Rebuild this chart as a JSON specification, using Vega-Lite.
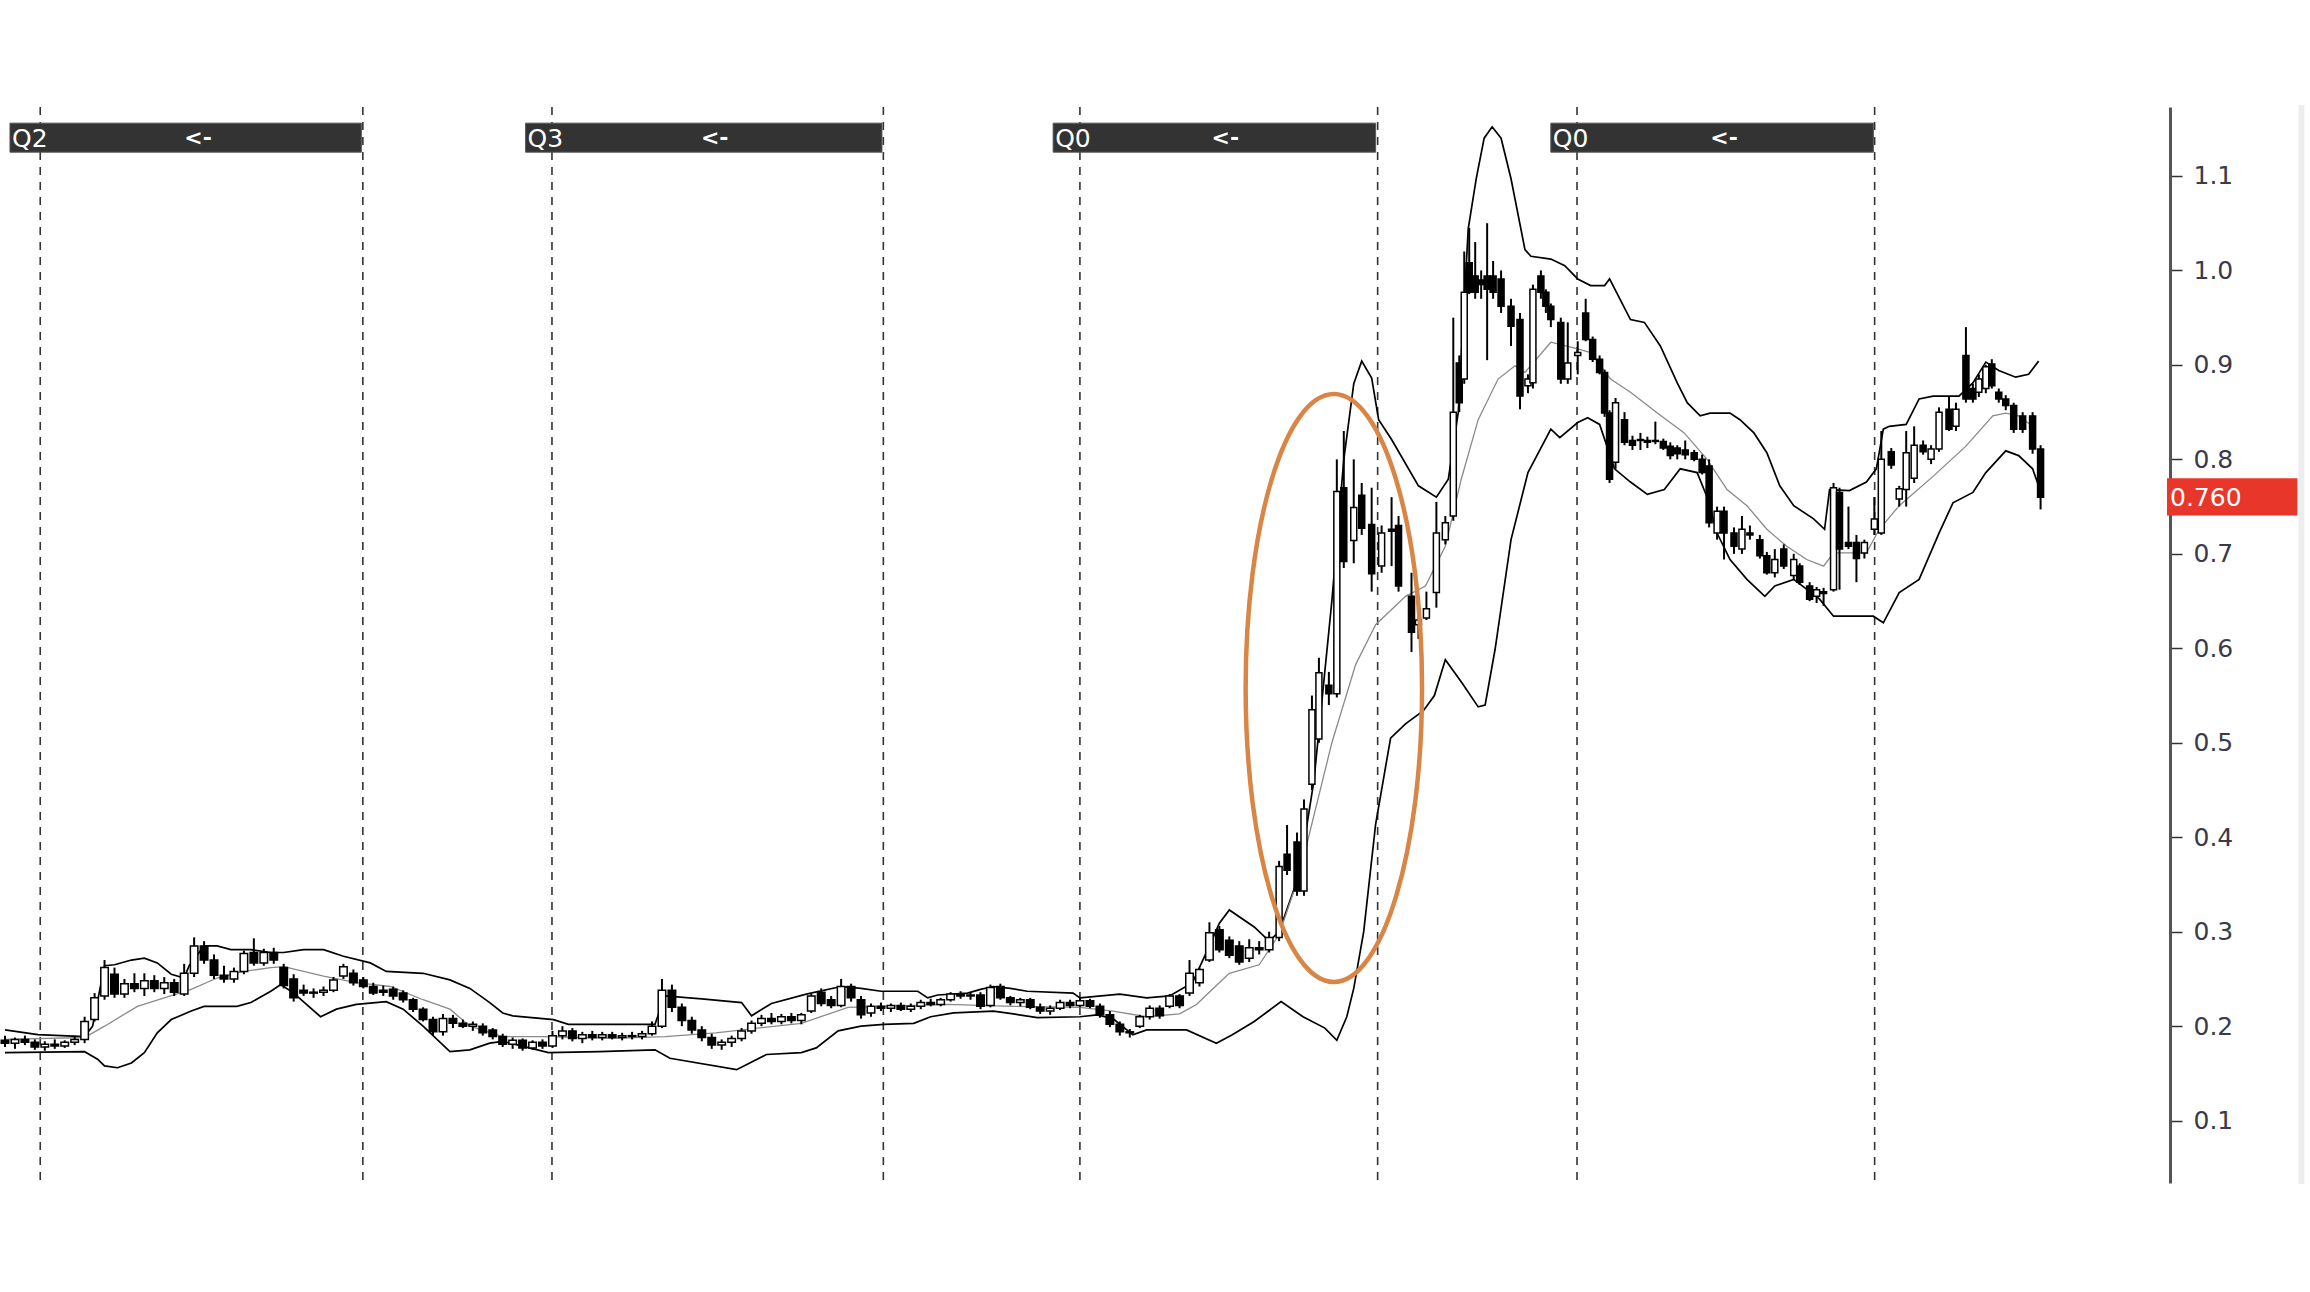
{
"$schema":"https://vega.github.io/schema/vega-lite/v6.json",
"width":2170,"height":1076,
"autosize":{"type":"none"},
"padding":{"left":0,"top":107,"right":140,"bottom":109},
"background":"#ffffff",
"config":{"view":{"stroke":null},"axisY":{"domainColor":"#555555","domainWidth":3,"tickColor":"#333333","tickWidth":1.5,"tickSize":12,"labelPadding":11,"labelFont":"DejaVu Sans","labelFontSize":25,"labelColor":"#3a3a4a","grid":false}},
"datasets":{
"vl":[{"t":3.54},{"t":35.95},{"t":54.95},{"t":88.24},{"t":107.99},{"t":137.9},{"t":157.93},{"t":187.83}],
"hdr":[{"t":0.5,"t2":35.8,"y":1.1559,"y2":1.1252},{"t":52.3,"t2":88.1,"y":1.1559,"y2":1.1252},{"t":105.3,"t2":137.7,"y":1.1559,"y2":1.1252},{"t":155.3,"t2":187.7,"y":1.1559,"y2":1.1252}],
"lbl":[{"t":0.7,"y":1.1405,"s":"Q2"},{"t":52.5,"y":1.1405,"s":"Q3"},{"t":105.5,"y":1.1405,"s":"Q0"},{"t":155.5,"y":1.1405,"s":"Q0"}],
"arr":[{"t":19.4,"y":1.1405,"s":"<-"},{"t":71.3,"y":1.1405,"s":"<-"},{"t":122.6,"y":1.1405,"s":"<-"},{"t":172.7,"y":1.1405,"s":"<-"}],
"up":[{"t":0,"v":0.196},{"t":3.3,"v":0.191},{"t":8,"v":0.189},{"t":8.8,"v":0.2},{"t":10,"v":0.264},{"t":11,"v":0.265},{"t":12.7,"v":0.27},{"t":14,"v":0.272},{"t":15.3,"v":0.267},{"t":16.7,"v":0.255},{"t":18,"v":0.251},{"t":18.5,"v":0.264},{"t":20,"v":0.285},{"t":21.3,"v":0.285},{"t":22.7,"v":0.281},{"t":24.7,"v":0.281},{"t":26.7,"v":0.278},{"t":28,"v":0.278},{"t":30,"v":0.281},{"t":32,"v":0.281},{"t":34,"v":0.274},{"t":36.7,"v":0.267},{"t":38.3,"v":0.258},{"t":42,"v":0.256},{"t":44.7,"v":0.249},{"t":46.7,"v":0.24},{"t":48.7,"v":0.225},{"t":50,"v":0.214},{"t":51,"v":0.211},{"t":55.1,"v":0.207},{"t":56.6,"v":0.202},{"t":65.3,"v":0.202},{"t":66.3,"v":0.232},{"t":70,"v":0.229},{"t":74,"v":0.225},{"t":75,"v":0.211},{"t":77,"v":0.224},{"t":80.5,"v":0.234},{"t":84,"v":0.242},{"t":86,"v":0.24},{"t":88,"v":0.237},{"t":91.7,"v":0.237},{"t":92.7,"v":0.23},{"t":93.7,"v":0.233},{"t":96.7,"v":0.235},{"t":98,"v":0.239},{"t":99.3,"v":0.242},{"t":101,"v":0.24},{"t":102.7,"v":0.237},{"t":107.3,"v":0.235},{"t":108,"v":0.23},{"t":112,"v":0.234},{"t":114.7,"v":0.23},{"t":117,"v":0.232},{"t":119.3,"v":0.246},{"t":121,"v":0.285},{"t":122,"v":0.309},{"t":123,"v":0.323},{"t":125.5,"v":0.305},{"t":127,"v":0.29},{"t":128,"v":0.3},{"t":130,"v":0.36},{"t":131.5,"v":0.46},{"t":133.3,"v":0.65},{"t":134.5,"v":0.8},{"t":135.5,"v":0.88},{"t":136.3,"v":0.904},{"t":137.3,"v":0.886},{"t":138,"v":0.842},{"t":139.3,"v":0.821},{"t":142,"v":0.772},{"t":143.8,"v":0.76},{"t":145,"v":0.779},{"t":146,"v":0.85},{"t":147,"v":1.044},{"t":147.8,"v":1.097},{"t":148.6,"v":1.14},{"t":149.4,"v":1.152},{"t":150.3,"v":1.14},{"t":151.3,"v":1.097},{"t":152.7,"v":1.022},{"t":153.3,"v":1.015},{"t":155.3,"v":1.012},{"t":156.7,"v":1.005},{"t":158,"v":0.991},{"t":159.3,"v":0.984},{"t":160.7,"v":0.984},{"t":161.2,"v":0.991},{"t":163.3,"v":0.948},{"t":164.7,"v":0.945},{"t":166.3,"v":0.92},{"t":168,"v":0.881},{"t":169,"v":0.86},{"t":170.3,"v":0.846},{"t":171.3,"v":0.849},{"t":173.3,"v":0.849},{"t":174.3,"v":0.842},{"t":175.7,"v":0.828},{"t":177,"v":0.807},{"t":178.3,"v":0.772},{"t":179.7,"v":0.751},{"t":181.7,"v":0.737},{"t":182.8,"v":0.726},{"t":183.3,"v":0.768},{"t":185.3,"v":0.767},{"t":187,"v":0.776},{"t":188,"v":0.79},{"t":188.7,"v":0.832},{"t":189.3,"v":0.835},{"t":191,"v":0.837},{"t":192.3,"v":0.864},{"t":193.7,"v":0.867},{"t":196.3,"v":0.867},{"t":197.7,"v":0.881},{"t":199,"v":0.903},{"t":200.3,"v":0.894},{"t":202,"v":0.887},{"t":203.3,"v":0.89},{"t":204.3,"v":0.904}],
"lo":[{"t":0,"v":0.172},{"t":8,"v":0.173},{"t":9.3,"v":0.165},{"t":10,"v":0.158},{"t":11.3,"v":0.156},{"t":12.7,"v":0.161},{"t":14,"v":0.172},{"t":15.3,"v":0.193},{"t":16.7,"v":0.207},{"t":18.7,"v":0.216},{"t":20,"v":0.221},{"t":23.3,"v":0.221},{"t":24.7,"v":0.225},{"t":26.7,"v":0.237},{"t":27.7,"v":0.244},{"t":29,"v":0.235},{"t":31.7,"v":0.21},{"t":33.3,"v":0.218},{"t":35.3,"v":0.223},{"t":38.3,"v":0.226},{"t":40,"v":0.218},{"t":42,"v":0.2},{"t":44.7,"v":0.173},{"t":46.7,"v":0.175},{"t":48.7,"v":0.182},{"t":50,"v":0.184},{"t":54.6,"v":0.172},{"t":59.7,"v":0.173},{"t":65.3,"v":0.175},{"t":66.8,"v":0.166},{"t":73.5,"v":0.154},{"t":76.5,"v":0.17},{"t":80,"v":0.172},{"t":81.5,"v":0.177},{"t":83.7,"v":0.195},{"t":86,"v":0.2},{"t":88.3,"v":0.202},{"t":91.3,"v":0.203},{"t":93,"v":0.21},{"t":95.3,"v":0.214},{"t":99.3,"v":0.216},{"t":101.3,"v":0.213},{"t":103.7,"v":0.209},{"t":108,"v":0.21},{"t":109.7,"v":0.212},{"t":111.3,"v":0.208},{"t":113.3,"v":0.191},{"t":114.7,"v":0.196},{"t":118.7,"v":0.196},{"t":121.7,"v":0.182},{"t":123.3,"v":0.191},{"t":125.5,"v":0.205},{"t":128.2,"v":0.226},{"t":130.4,"v":0.21},{"t":132.6,"v":0.198},{"t":133.8,"v":0.185},{"t":134.8,"v":0.21},{"t":135.5,"v":0.24},{"t":136.5,"v":0.3},{"t":137.7,"v":0.414},{"t":139.2,"v":0.505},{"t":140.7,"v":0.52},{"t":142.5,"v":0.534},{"t":143.6,"v":0.55},{"t":144.7,"v":0.588},{"t":146.4,"v":0.563},{"t":148,"v":0.538},{"t":148.7,"v":0.54},{"t":149.7,"v":0.599},{"t":151.3,"v":0.715},{"t":153,"v":0.786},{"t":155.3,"v":0.832},{"t":156.2,"v":0.823},{"t":158,"v":0.839},{"t":159,"v":0.844},{"t":160.2,"v":0.837},{"t":161.7,"v":0.79},{"t":163.3,"v":0.776},{"t":165,"v":0.763},{"t":166.7,"v":0.768},{"t":168.3,"v":0.79},{"t":170,"v":0.786},{"t":171,"v":0.76},{"t":172,"v":0.722},{"t":173.3,"v":0.694},{"t":175,"v":0.673},{"t":176.8,"v":0.655},{"t":177.8,"v":0.666},{"t":179.7,"v":0.673},{"t":182.3,"v":0.652},{"t":183.7,"v":0.634},{"t":187.7,"v":0.634},{"t":188.7,"v":0.627},{"t":190.3,"v":0.659},{"t":192.3,"v":0.673},{"t":194.3,"v":0.722},{"t":195.7,"v":0.754},{"t":197.7,"v":0.765},{"t":199,"v":0.786},{"t":201,"v":0.809},{"t":202.3,"v":0.804},{"t":203.7,"v":0.79},{"t":204.3,"v":0.772}],
"md":[{"t":0,"v":0.186},{"t":8,"v":0.188},{"t":10,"v":0.2},{"t":13.3,"v":0.221},{"t":16,"v":0.23},{"t":18.7,"v":0.239},{"t":21.3,"v":0.251},{"t":24,"v":0.258},{"t":26.7,"v":0.262},{"t":28,"v":0.263},{"t":30,"v":0.258},{"t":32,"v":0.253},{"t":35.3,"v":0.246},{"t":38.7,"v":0.242},{"t":42,"v":0.228},{"t":44.7,"v":0.218},{"t":46.7,"v":0.2},{"t":50,"v":0.189},{"t":54,"v":0.189},{"t":61,"v":0.187},{"t":66.3,"v":0.189},{"t":71.4,"v":0.193},{"t":80,"v":0.203},{"t":84.7,"v":0.22},{"t":88,"v":0.221},{"t":94.7,"v":0.223},{"t":101.3,"v":0.221},{"t":108,"v":0.22},{"t":111.3,"v":0.216},{"t":114.7,"v":0.21},{"t":118,"v":0.213},{"t":119.7,"v":0.223},{"t":121.3,"v":0.239},{"t":123,"v":0.256},{"t":126,"v":0.265},{"t":128,"v":0.297},{"t":130,"v":0.359},{"t":133.3,"v":0.5},{"t":135.7,"v":0.583},{"t":137.7,"v":0.625},{"t":140.7,"v":0.655},{"t":142.7,"v":0.666},{"t":144.7,"v":0.708},{"t":146.3,"v":0.779},{"t":148,"v":0.842},{"t":150,"v":0.885},{"t":151.7,"v":0.899},{"t":152.7,"v":0.892},{"t":155.3,"v":0.924},{"t":158,"v":0.917},{"t":159.3,"v":0.913},{"t":161.3,"v":0.885},{"t":163.3,"v":0.871},{"t":166,"v":0.849},{"t":168.7,"v":0.828},{"t":171,"v":0.8},{"t":173,"v":0.768},{"t":175,"v":0.751},{"t":177,"v":0.726},{"t":179,"v":0.708},{"t":181,"v":0.694},{"t":182.7,"v":0.687},{"t":183.7,"v":0.701},{"t":187,"v":0.701},{"t":188.3,"v":0.726},{"t":190.3,"v":0.751},{"t":193.7,"v":0.782},{"t":197,"v":0.814},{"t":199.7,"v":0.846},{"t":201,"v":0.849},{"t":202.3,"v":0.846},{"t":203.7,"v":0.835}],
"k":[
{"t":0,"o":0.185,"h":0.19,"l":0.178,"c":0.182},{"t":1,"o":0.182,"h":0.188,"l":0.176,"c":0.186},{"t":2,"o":0.186,"h":0.19,"l":0.18,"c":0.183},{"t":3,"o":0.183,"h":0.186,"l":0.175,"c":0.178},{"t":4,"o":0.178,"h":0.184,"l":0.174,"c":0.181},{"t":5,"o":0.181,"h":0.186,"l":0.176,"c":0.179},{"t":6,"o":0.179,"h":0.185,"l":0.177,"c":0.183},{"t":7,"o":0.183,"h":0.19,"l":0.18,"c":0.186},{"t":8,"o":0.186,"h":0.21,"l":0.182,"c":0.205},{"t":9,"o":0.207,"h":0.235,"l":0.205,"c":0.23},
{"t":10,"o":0.232,"h":0.27,"l":0.228,"c":0.262},{"t":11,"o":0.255,"h":0.262,"l":0.23,"c":0.234},{"t":12,"o":0.234,"h":0.25,"l":0.23,"c":0.245},{"t":13,"o":0.245,"h":0.256,"l":0.236,"c":0.24},{"t":14,"o":0.24,"h":0.256,"l":0.232,"c":0.248},{"t":15,"o":0.248,"h":0.254,"l":0.236,"c":0.24},{"t":16,"o":0.24,"h":0.252,"l":0.234,"c":0.246},{"t":17,"o":0.246,"h":0.25,"l":0.232,"c":0.236},{"t":18,"o":0.234,"h":0.266,"l":0.232,"c":0.256},{"t":19,"o":0.256,"h":0.294,"l":0.252,"c":0.285},
{"t":20,"o":0.285,"h":0.29,"l":0.266,"c":0.27},{"t":21,"o":0.27,"h":0.276,"l":0.25,"c":0.254},{"t":22,"o":0.254,"h":0.264,"l":0.246,"c":0.25},{"t":23,"o":0.25,"h":0.262,"l":0.246,"c":0.258},{"t":24,"o":0.258,"h":0.28,"l":0.255,"c":0.277},{"t":25,"o":0.278,"h":0.293,"l":0.264,"c":0.267},{"t":26,"o":0.267,"h":0.282,"l":0.264,"c":0.278},{"t":27,"o":0.278,"h":0.283,"l":0.266,"c":0.27},{"t":28,"o":0.262,"h":0.266,"l":0.24,"c":0.243},{"t":29,"o":0.25,"h":0.255,"l":0.226,"c":0.23},
{"t":30,"o":0.238,"h":0.244,"l":0.232,"c":0.235},{"t":31,"o":0.235,"h":0.24,"l":0.23,"c":0.236},{"t":32,"o":0.236,"h":0.242,"l":0.232,"c":0.238},{"t":33,"o":0.238,"h":0.252,"l":0.236,"c":0.249},{"t":34,"o":0.253,"h":0.266,"l":0.25,"c":0.263},{"t":35,"o":0.256,"h":0.26,"l":0.243,"c":0.246},{"t":36,"o":0.249,"h":0.252,"l":0.24,"c":0.242},{"t":37,"o":0.242,"h":0.246,"l":0.233,"c":0.235},{"t":38,"o":0.238,"h":0.243,"l":0.232,"c":0.236},{"t":39,"o":0.239,"h":0.242,"l":0.228,"c":0.232},
{"t":40,"o":0.235,"h":0.238,"l":0.225,"c":0.228},{"t":41,"o":0.228,"h":0.23,"l":0.215,"c":0.218},{"t":42,"o":0.218,"h":0.22,"l":0.205,"c":0.207},{"t":43,"o":0.207,"h":0.21,"l":0.19,"c":0.194},{"t":44,"o":0.194,"h":0.213,"l":0.19,"c":0.208},{"t":45,"o":0.208,"h":0.212,"l":0.198,"c":0.203},{"t":46,"o":0.203,"h":0.207,"l":0.198,"c":0.2},{"t":47,"o":0.2,"h":0.205,"l":0.195,"c":0.202},{"t":48,"o":0.2,"h":0.203,"l":0.19,"c":0.193},{"t":49,"o":0.196,"h":0.198,"l":0.186,"c":0.189},
{"t":50,"o":0.189,"h":0.192,"l":0.178,"c":0.181},{"t":51,"o":0.181,"h":0.188,"l":0.176,"c":0.185},{"t":52,"o":0.185,"h":0.187,"l":0.174,"c":0.177},{"t":53,"o":0.177,"h":0.185,"l":0.175,"c":0.183},{"t":54,"o":0.183,"h":0.186,"l":0.176,"c":0.179},{"t":55,"o":0.179,"h":0.195,"l":0.177,"c":0.19},{"t":56,"o":0.19,"h":0.2,"l":0.186,"c":0.195},{"t":57,"o":0.195,"h":0.198,"l":0.184,"c":0.187},{"t":58,"o":0.187,"h":0.194,"l":0.182,"c":0.191},{"t":59,"o":0.191,"h":0.195,"l":0.185,"c":0.188},
{"t":60,"o":0.188,"h":0.194,"l":0.185,"c":0.191},{"t":61,"o":0.191,"h":0.194,"l":0.186,"c":0.188},{"t":62,"o":0.188,"h":0.193,"l":0.185,"c":0.19},{"t":63,"o":0.19,"h":0.194,"l":0.186,"c":0.189},{"t":64,"o":0.189,"h":0.195,"l":0.186,"c":0.192},{"t":65,"o":0.192,"h":0.205,"l":0.19,"c":0.2},{"t":66,"o":0.2,"h":0.25,"l":0.198,"c":0.238},{"t":67,"o":0.238,"h":0.244,"l":0.215,"c":0.22},{"t":68,"o":0.22,"h":0.224,"l":0.2,"c":0.206},{"t":69,"o":0.206,"h":0.21,"l":0.192,"c":0.196},
{"t":70,"o":0.196,"h":0.2,"l":0.184,"c":0.188},{"t":71,"o":0.188,"h":0.192,"l":0.176,"c":0.18},{"t":72,"o":0.18,"h":0.186,"l":0.175,"c":0.183},{"t":73,"o":0.183,"h":0.19,"l":0.178,"c":0.187},{"t":74,"o":0.187,"h":0.198,"l":0.184,"c":0.195},{"t":75,"o":0.195,"h":0.206,"l":0.192,"c":0.203},{"t":76,"o":0.203,"h":0.212,"l":0.2,"c":0.208},{"t":77,"o":0.208,"h":0.214,"l":0.202,"c":0.205},{"t":78,"o":0.205,"h":0.213,"l":0.202,"c":0.21},{"t":79,"o":0.21,"h":0.214,"l":0.203,"c":0.206},
{"t":80,"o":0.206,"h":0.214,"l":0.202,"c":0.212},{"t":81,"o":0.216,"h":0.234,"l":0.214,"c":0.232},{"t":82,"o":0.236,"h":0.24,"l":0.221,"c":0.224},{"t":83,"o":0.228,"h":0.232,"l":0.219,"c":0.222},{"t":84,"o":0.222,"h":0.25,"l":0.22,"c":0.242},{"t":85,"o":0.242,"h":0.245,"l":0.226,"c":0.23},{"t":86,"o":0.228,"h":0.232,"l":0.208,"c":0.212},{"t":87,"o":0.214,"h":0.224,"l":0.21,"c":0.221},{"t":88,"o":0.221,"h":0.225,"l":0.216,"c":0.219},{"t":89,"o":0.219,"h":0.224,"l":0.215,"c":0.222},
{"t":90,"o":0.222,"h":0.225,"l":0.216,"c":0.218},{"t":91,"o":0.218,"h":0.224,"l":0.215,"c":0.221},{"t":92,"o":0.221,"h":0.228,"l":0.218,"c":0.225},{"t":93,"o":0.225,"h":0.229,"l":0.221,"c":0.223},{"t":94,"o":0.223,"h":0.23,"l":0.221,"c":0.228},{"t":95,"o":0.228,"h":0.236,"l":0.226,"c":0.234},{"t":96,"o":0.234,"h":0.237,"l":0.229,"c":0.232},{"t":97,"o":0.232,"h":0.236,"l":0.228,"c":0.233},{"t":98,"o":0.233,"h":0.236,"l":0.218,"c":0.221},{"t":99,"o":0.222,"h":0.244,"l":0.22,"c":0.241},
{"t":100,"o":0.242,"h":0.245,"l":0.228,"c":0.23},{"t":101,"o":0.23,"h":0.232,"l":0.222,"c":0.225},{"t":102,"o":0.225,"h":0.23,"l":0.221,"c":0.228},{"t":103,"o":0.228,"h":0.23,"l":0.218,"c":0.22},{"t":104,"o":0.22,"h":0.224,"l":0.213,"c":0.216},{"t":105,"o":0.216,"h":0.222,"l":0.212,"c":0.219},{"t":106,"o":0.219,"h":0.228,"l":0.217,"c":0.225},{"t":107,"o":0.225,"h":0.228,"l":0.219,"c":0.222},{"t":108,"o":0.222,"h":0.23,"l":0.22,"c":0.227},{"t":109,"o":0.227,"h":0.229,"l":0.219,"c":0.221},
{"t":110,"o":0.221,"h":0.224,"l":0.209,"c":0.212},{"t":111,"o":0.212,"h":0.216,"l":0.199,"c":0.202},{"t":112,"o":0.202,"h":0.205,"l":0.19,"c":0.194},{"t":113,"o":0.194,"h":0.197,"l":0.188,"c":0.193},{"t":114,"o":0.2,"h":0.212,"l":0.198,"c":0.21},{"t":115,"o":0.21,"h":0.222,"l":0.207,"c":0.219},{"t":116,"o":0.219,"h":0.222,"l":0.208,"c":0.211},{"t":117,"o":0.221,"h":0.234,"l":0.219,"c":0.232},{"t":118,"o":0.232,"h":0.234,"l":0.219,"c":0.222},{"t":119,"o":0.235,"h":0.27,"l":0.232,"c":0.256},
{"t":120,"o":0.246,"h":0.262,"l":0.242,"c":0.26},{"t":121,"o":0.27,"h":0.31,"l":0.268,"c":0.299},{"t":122,"o":0.302,"h":0.306,"l":0.278,"c":0.281},{"t":123,"o":0.291,"h":0.295,"l":0.272,"c":0.275},{"t":124,"o":0.285,"h":0.29,"l":0.265,"c":0.268},{"t":125,"o":0.272,"h":0.292,"l":0.268,"c":0.283},{"t":126,"o":0.283,"h":0.29,"l":0.276,"c":0.281},{"t":127,"o":0.281,"h":0.3,"l":0.278,"c":0.294},
{"t":128,"o":0.294,"h":0.375,"l":0.29,"c":0.369},{"t":128.8,"o":0.382,"h":0.413,"l":0.36,"c":0.365},{"t":129.8,"o":0.395,"h":0.405,"l":0.338,"c":0.343},{"t":130.5,"o":0.343,"h":0.44,"l":0.338,"c":0.43},{"t":131.3,"o":0.456,"h":0.55,"l":0.45,"c":0.535},{"t":132,"o":0.504,"h":0.59,"l":0.5,"c":0.574},{"t":133,"o":0.561,"h":0.575,"l":0.54,"c":0.552},{"t":133.8,"o":0.552,"h":0.8,"l":0.548,"c":0.766},{"t":134.5,"o":0.77,"h":0.83,"l":0.685,"c":0.692},{"t":135.5,"o":0.714,"h":0.8,"l":0.69,"c":0.749},
{"t":136.3,"o":0.762,"h":0.775,"l":0.72,"c":0.727},{"t":137.3,"o":0.731,"h":0.77,"l":0.66,"c":0.679},{"t":138.3,"o":0.687,"h":0.73,"l":0.68,"c":0.722},{"t":139.3,"o":0.726,"h":0.76,"l":0.687,"c":0.724},{"t":140,"o":0.73,"h":0.74,"l":0.66,"c":0.666},{"t":141.3,"o":0.655,"h":0.68,"l":0.596,"c":0.617},{"t":142,"o":0.625,"h":0.64,"l":0.61,"c":0.63},{"t":142.8,"o":0.632,"h":0.66,"l":0.63,"c":0.642},{"t":143.8,"o":0.659,"h":0.755,"l":0.643,"c":0.722},{"t":144.7,"o":0.715,"h":0.74,"l":0.71,"c":0.733},
{"t":145.5,"o":0.74,"h":0.95,"l":0.735,"c":0.85},{"t":146.1,"o":0.902,"h":0.91,"l":0.85,"c":0.86},{"t":146.6,"o":0.885,"h":1.02,"l":0.88,"c":0.977},{"t":147.1,"o":1.008,"h":1.045,"l":0.975,"c":0.977},{"t":147.7,"o":0.994,"h":1.03,"l":0.97,"c":0.977},{"t":148.3,"o":0.99,"h":1.0,"l":0.97,"c":0.985},{"t":148.9,"o":0.994,"h":1.05,"l":0.905,"c":0.98},{"t":149.5,"o":0.994,"h":1.01,"l":0.97,"c":0.977},{"t":150.3,"o":0.991,"h":1.0,"l":0.955,"c":0.962},{"t":151.3,"o":0.962,"h":0.97,"l":0.92,"c":0.941},
{"t":152.2,"o":0.948,"h":0.955,"l":0.853,"c":0.867},{"t":153,"o":0.878,"h":0.89,"l":0.87,"c":0.885},{"t":153.5,"o":0.881,"h":0.985,"l":0.875,"c":0.98},{"t":154.3,"o":0.994,"h":1.0,"l":0.97,"c":0.977},{"t":154.8,"o":0.977,"h":0.98,"l":0.955,"c":0.962},{"t":155.3,"o":0.962,"h":0.965,"l":0.94,"c":0.948},{"t":156.3,"o":0.945,"h":0.95,"l":0.88,"c":0.885},{"t":157,"o":0.885,"h":0.945,"l":0.88,"c":0.902},{"t":158,"o":0.91,"h":0.925,"l":0.89,"c":0.913},{"t":158.8,"o":0.955,"h":0.97,"l":0.925,"c":0.927},
{"t":159.5,"o":0.927,"h":0.93,"l":0.903,"c":0.906},{"t":160.2,"o":0.906,"h":0.91,"l":0.89,"c":0.892},{"t":160.7,"o":0.892,"h":0.895,"l":0.845,"c":0.849},{"t":161.2,"o":0.849,"h":0.852,"l":0.775,"c":0.779},{"t":161.8,"o":0.797,"h":0.865,"l":0.79,"c":0.86},{"t":162.7,"o":0.842,"h":0.85,"l":0.815,"c":0.818},{"t":163.5,"o":0.82,"h":0.825,"l":0.81,"c":0.815},{"t":164.3,"o":0.821,"h":0.828,"l":0.81,"c":0.82},{"t":165,"o":0.82,"h":0.824,"l":0.812,"c":0.818},{"t":165.8,"o":0.82,"h":0.84,"l":0.816,"c":0.819},
{"t":166.6,"o":0.819,"h":0.822,"l":0.81,"c":0.812},{"t":167.3,"o":0.814,"h":0.818,"l":0.8,"c":0.804},{"t":168,"o":0.812,"h":0.815,"l":0.8,"c":0.806},{"t":168.8,"o":0.81,"h":0.82,"l":0.8,"c":0.805},{"t":169.7,"o":0.807,"h":0.81,"l":0.798,"c":0.8},{"t":170.5,"o":0.8,"h":0.805,"l":0.784,"c":0.786},{"t":171.2,"o":0.793,"h":0.8,"l":0.728,"c":0.733},{"t":172,"o":0.722,"h":0.75,"l":0.715,"c":0.745},{"t":172.7,"o":0.745,"h":0.75,"l":0.694,"c":0.722},{"t":173.7,"o":0.722,"h":0.728,"l":0.7,"c":0.708},
{"t":174.5,"o":0.705,"h":0.74,"l":0.7,"c":0.726},{"t":175.3,"o":0.722,"h":0.73,"l":0.715,"c":0.72},{"t":176.3,"o":0.715,"h":0.72,"l":0.695,"c":0.698},{"t":177,"o":0.698,"h":0.702,"l":0.678,"c":0.68},{"t":177.8,"o":0.68,"h":0.705,"l":0.675,"c":0.694},{"t":178.7,"o":0.705,"h":0.71,"l":0.684,"c":0.687},{"t":179.7,"o":0.677,"h":0.7,"l":0.672,"c":0.694},{"t":180.3,"o":0.687,"h":0.69,"l":0.667,"c":0.67},{"t":181.3,"o":0.666,"h":0.67,"l":0.65,"c":0.652},{"t":182,"o":0.655,"h":0.665,"l":0.648,"c":0.662},
{"t":182.7,"o":0.66,"h":0.664,"l":0.645,"c":0.658},{"t":183.7,"o":0.662,"h":0.775,"l":0.66,"c":0.77},{"t":184.3,"o":0.765,"h":0.77,"l":0.662,"c":0.705},{"t":185.2,"o":0.712,"h":0.75,"l":0.705,"c":0.708},{"t":186,"o":0.712,"h":0.72,"l":0.67,"c":0.695},{"t":186.8,"o":0.701,"h":0.715,"l":0.695,"c":0.712},{"t":187.8,"o":0.726,"h":0.76,"l":0.72,"c":0.737},{"t":188.5,"o":0.722,"h":0.83,"l":0.72,"c":0.8},{"t":189.5,"o":0.808,"h":0.812,"l":0.79,"c":0.794},{"t":190.3,"o":0.758,"h":0.772,"l":0.75,"c":0.769},
{"t":191,"o":0.768,"h":0.83,"l":0.75,"c":0.807},{"t":191.8,"o":0.78,"h":0.835,"l":0.775,"c":0.815},{"t":192.7,"o":0.815,"h":0.82,"l":0.805,"c":0.808},{"t":193.5,"o":0.8,"h":0.815,"l":0.795,"c":0.811},{"t":194.3,"o":0.811,"h":0.855,"l":0.808,"c":0.85},{"t":195.3,"o":0.853,"h":0.866,"l":0.83,"c":0.832},{"t":196,"o":0.835,"h":0.86,"l":0.83,"c":0.853},{"t":197,"o":0.91,"h":0.94,"l":0.86,"c":0.864},{"t":197.7,"o":0.875,"h":0.88,"l":0.86,"c":0.864},{"t":198.3,"o":0.871,"h":0.89,"l":0.866,"c":0.885},
{"t":199,"o":0.875,"h":0.9,"l":0.87,"c":0.898},{"t":199.6,"o":0.901,"h":0.906,"l":0.875,"c":0.878},{"t":200.3,"o":0.871,"h":0.875,"l":0.86,"c":0.864},{"t":201,"o":0.864,"h":0.868,"l":0.852,"c":0.857},{"t":201.8,"o":0.857,"h":0.86,"l":0.828,"c":0.832},{"t":202.7,"o":0.846,"h":0.85,"l":0.828,"c":0.832},{"t":203.7,"o":0.846,"h":0.85,"l":0.806,"c":0.811},{"t":204.5,"o":0.811,"h":0.815,"l":0.747,"c":0.76}
],
"ell":[{"t":133.5,"v":0.558}],
"tag":[{"t":217.2,"t2":230.3,"y":0.7799,"y2":0.7407,"v":0.76,"s":"0.760"}],
"strip":[{"t":230.4,"t2":231,"y":1.175,"y2":0.033}]
},
"encoding":{"x":{"field":"t","type":"quantitative","scale":{"domain":[0,217]},"axis":null}},
"layer":[
{"data":{"name":"vl"},"mark":{"type":"rule","stroke":"#333333","strokeWidth":1.6,"strokeDash":[8,7]},"encoding":{}},
{"data":{"name":"up"},"mark":{"type":"line","stroke":"#000000","strokeWidth":1.7},
 "encoding":{"y":{"field":"v","type":"quantitative","scale":{"domain":[0.034,1.173],"nice":false,"zero":false},"axis":{"orient":"right","values":[0.1,0.2,0.3,0.4,0.5,0.6,0.7,0.8,0.9,1.0,1.1],"format":".1f","title":null}}}},
{"data":{"name":"lo"},"mark":{"type":"line","stroke":"#000000","strokeWidth":1.7},
 "encoding":{"y":{"field":"v","type":"quantitative","scale":{"domain":[0.034,1.173],"nice":false,"zero":false},"axis":{"orient":"right","values":[0.1,0.2,0.3,0.4,0.5,0.6,0.7,0.8,0.9,1.0,1.1],"format":".1f","title":null}}}},
{"data":{"name":"md"},"mark":{"type":"line","stroke":"#8a8a8a","strokeWidth":1.3},
 "encoding":{"y":{"field":"v","type":"quantitative","scale":{"domain":[0.034,1.173],"nice":false,"zero":false},"axis":{"orient":"right","values":[0.1,0.2,0.3,0.4,0.5,0.6,0.7,0.8,0.9,1.0,1.1],"format":".1f","title":null}}}},
{"data":{"name":"k"},"mark":{"type":"rule","stroke":"#000000","strokeWidth":2},
 "encoding":{"y":{"field":"l","type":"quantitative","scale":{"domain":[0.034,1.173],"nice":false,"zero":false},"axis":{"orient":"right","values":[0.1,0.2,0.3,0.4,0.5,0.6,0.7,0.8,0.9,1.0,1.1],"format":".1f","title":null}},"y2":{"field":"h"}}},
{"data":{"name":"k"},"transform":[{"filter":"datum.t < 127.5"}],"mark":{"type":"bar","width":7.5,"stroke":"#000000","strokeWidth":1.5},
 "encoding":{"y":{"field":"o","type":"quantitative","scale":{"domain":[0.034,1.173],"nice":false,"zero":false},"axis":{"orient":"right","values":[0.1,0.2,0.3,0.4,0.5,0.6,0.7,0.8,0.9,1.0,1.1],"format":".1f","title":null}},"y2":{"field":"c"},
  "fill":{"condition":{"test":"datum.c < datum.o","value":"#000000"},"value":"#ffffff"}}},
{"data":{"name":"k"},"transform":[{"filter":"datum.t >= 127.5"}],"mark":{"type":"bar","width":6,"stroke":"#000000","strokeWidth":1.5},
 "encoding":{"y":{"field":"o","type":"quantitative","scale":{"domain":[0.034,1.173],"nice":false,"zero":false},"axis":{"orient":"right","values":[0.1,0.2,0.3,0.4,0.5,0.6,0.7,0.8,0.9,1.0,1.1],"format":".1f","title":null}},"y2":{"field":"c"},
  "fill":{"condition":{"test":"datum.c < datum.o","value":"#000000"},"value":"#ffffff"}}},
{"data":{"name":"hdr"},"mark":{"type":"rect","fill":"#333333","stroke":"#555555","strokeWidth":1},
 "encoding":{"x2":{"field":"t2"},"y":{"field":"y","type":"quantitative","scale":{"domain":[0.034,1.173],"nice":false,"zero":false},"axis":{"orient":"right","values":[0.1,0.2,0.3,0.4,0.5,0.6,0.7,0.8,0.9,1.0,1.1],"format":".1f","title":null}},"y2":{"field":"y2"}}},
{"data":{"name":"lbl"},"mark":{"type":"text","align":"left","baseline":"middle","font":"DejaVu Sans","fontSize":25,"fill":"#ffffff","dy":1},
 "encoding":{"y":{"field":"y","type":"quantitative","scale":{"domain":[0.034,1.173],"nice":false,"zero":false},"axis":{"orient":"right","values":[0.1,0.2,0.3,0.4,0.5,0.6,0.7,0.8,0.9,1.0,1.1],"format":".1f","title":null}},"text":{"field":"s"}}},
{"data":{"name":"arr"},"mark":{"type":"text","align":"center","baseline":"middle","font":"DejaVu Sans","fontSize":22,"fontWeight":"bold","fill":"#ffffff"},
 "encoding":{"y":{"field":"y","type":"quantitative","scale":{"domain":[0.034,1.173],"nice":false,"zero":false},"axis":{"orient":"right","values":[0.1,0.2,0.3,0.4,0.5,0.6,0.7,0.8,0.9,1.0,1.1],"format":".1f","title":null}},"text":{"field":"s"}}},
{"data":{"name":"ell"},"mark":{"type":"point","shape":"M0,-1 A0.3,1 0 1,1 0,1 A0.3,1 0 1,1 0,-1 Z","size":345744,"filled":false,"stroke":"#D98545","strokeWidth":4.5,"opacity":1},
 "encoding":{"y":{"field":"v","type":"quantitative","scale":{"domain":[0.034,1.173],"nice":false,"zero":false},"axis":{"orient":"right","values":[0.1,0.2,0.3,0.4,0.5,0.6,0.7,0.8,0.9,1.0,1.1],"format":".1f","title":null}}}},
{"data":{"name":"strip"},"mark":{"type":"rect","fill":"#ededed"},
 "encoding":{"x2":{"field":"t2"},"y":{"field":"y","type":"quantitative","scale":{"domain":[0.034,1.173],"nice":false,"zero":false},"axis":{"orient":"right","values":[0.1,0.2,0.3,0.4,0.5,0.6,0.7,0.8,0.9,1.0,1.1],"format":".1f","title":null}},"y2":{"field":"y2"}}},
{"data":{"name":"tag"},"mark":{"type":"rect","fill":"#E8372A"},
 "encoding":{"x2":{"field":"t2"},"y":{"field":"y","type":"quantitative","scale":{"domain":[0.034,1.173],"nice":false,"zero":false},"axis":{"orient":"right","values":[0.1,0.2,0.3,0.4,0.5,0.6,0.7,0.8,0.9,1.0,1.1],"format":".1f","title":null}},"y2":{"field":"y2"}}},
{"data":{"name":"tag"},"mark":{"type":"text","align":"left","baseline":"middle","font":"DejaVu Sans","fontSize":25,"fill":"#ffffff","dx":3,"dy":1},
 "encoding":{"y":{"field":"v","type":"quantitative","scale":{"domain":[0.034,1.173],"nice":false,"zero":false},"axis":{"orient":"right","values":[0.1,0.2,0.3,0.4,0.5,0.6,0.7,0.8,0.9,1.0,1.1],"format":".1f","title":null}},"text":{"field":"s"}}}
]
}
